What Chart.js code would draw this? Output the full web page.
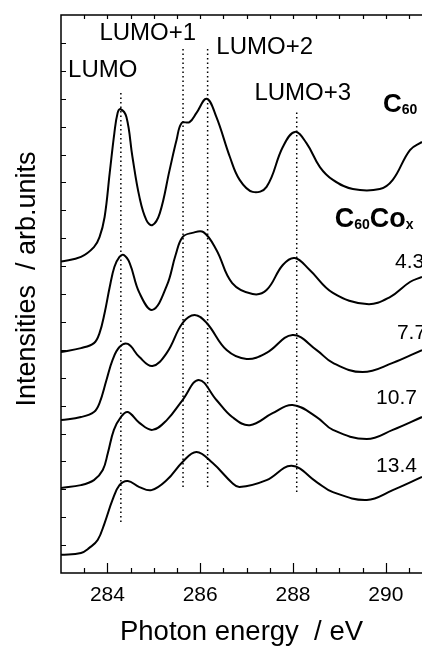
<!DOCTYPE html>
<html>
<head>
<meta charset="utf-8">
<script src="https://cdn.jsdelivr.net/npm/chart.js@4"></script>
<style>
  html, body { margin: 0; padding: 0; background: #fff; }
</style>
</head>
<body>
<canvas id="chart" width="422" height="650"></canvas>
<script>
// spectra (photon energy in eV, stacked intensity in arb. units)
const c60Energy = [283.0, 283.43, 283.71, 283.83, 283.94, 284.05, 284.15, 284.22, 284.28, 284.41, 284.54, 284.69, 284.84, 284.97, 285.13, 285.34, 285.49, 285.6, 285.77, 285.92, 286.14, 286.35, 286.64, 286.85, 287.13, 287.43, 287.78, 288.04, 288.29, 288.58, 288.86, 289.29, 289.87, 290.15, 290.52, 290.78]
const c60Intensity = [11.16, 11.33, 11.68, 12.04, 12.76, 14.34, 15.77, 16.49, 16.63, 16.34, 14.91, 13.48, 12.65, 12.47, 12.90, 14.44, 15.52, 16.13, 16.16, 16.49, 17.00, 16.34, 14.91, 14.09, 13.66, 13.84, 15.27, 15.81, 15.41, 14.55, 14.09, 13.76, 13.76, 14.09, 15.16, 15.45]

const co43Energy = [283.0, 283.43, 283.71, 283.83, 283.94, 284.05, 284.15, 284.26, 284.35, 284.48, 284.69, 284.97, 285.28, 285.47, 285.62, 285.83, 286.07, 286.35, 286.69, 287.13, 287.43, 287.78, 288.04, 288.36, 288.86, 289.59, 290.09, 290.52, 290.78]
const co43Intensity = [7.92, 8.06, 8.24, 8.60, 9.32, 10.25, 10.97, 11.33, 11.40, 11.11, 10.04, 9.43, 10.30, 11.40, 12.04, 12.19, 12.22, 11.58, 10.39, 10.00, 10.14, 11.04, 11.29, 10.86, 10.04, 9.64, 9.89, 10.43, 10.61]

const co77Energy = [283.0, 283.43, 283.71, 283.83, 283.98, 284.11, 284.26, 284.44, 284.69, 284.97, 285.28, 285.62, 285.88, 286.14, 286.57, 287.0, 287.43, 287.99, 288.51, 288.86, 289.5, 290.15, 290.78]
const co77Intensity = [5.48, 5.59, 5.77, 6.09, 6.92, 7.63, 8.10, 8.21, 7.74, 7.42, 7.89, 8.96, 9.25, 8.96, 7.99, 7.67, 7.89, 8.53, 7.99, 7.53, 7.20, 7.53, 7.99]

const co107Energy = [283.0, 283.43, 283.71, 283.9, 284.01, 284.14, 284.29, 284.44, 284.69, 284.97, 285.28, 285.62, 285.97, 286.35, 286.69, 287.07, 287.56, 287.99, 288.51, 288.86, 289.59, 290.15, 290.78]
const co107Intensity = [3.05, 3.15, 3.33, 3.69, 4.30, 5.13, 5.59, 5.77, 5.38, 5.13, 5.48, 6.20, 6.92, 6.20, 5.59, 5.30, 5.73, 6.02, 5.59, 5.13, 4.80, 5.13, 5.59]

const co134Energy = [283.0, 283.43, 283.61, 283.79, 283.94, 284.11, 284.26, 284.44, 284.69, 284.95, 285.28, 285.62, 285.92, 286.27, 286.69, 286.85, 287.43, 287.97, 288.51, 288.86, 289.59, 290.15, 290.78]
const co134Intensity = [0.65, 0.72, 0.90, 1.18, 1.79, 2.62, 3.15, 3.30, 3.08, 2.97, 3.33, 3.98, 4.34, 3.94, 3.23, 3.08, 3.33, 3.84, 3.26, 2.90, 2.62, 2.97, 3.44]

// LUMO levels: energy and extent of the dotted guide lines
const levelNames = ['LUMO', 'LUMO+1', 'LUMO+2', 'LUMO+3']
const levelEnergy = [284.29, 285.63, 286.16, 288.08]
const levelTop = [17.24, 18.78, 18.78, 16.52]
const levelBottom = [1.83, 3.08, 3.08, 2.90]

const coContent = ['4.3', '7.7', '10.7', '13.4']
const xTickLabels = [284, 286, 288, 290]

const FONT = "'Liberation Sans', Arial, sans-serif"

function points(xs, ys) {
  return xs.map((x, i) => ({x: x, y: ys[i]}))
}

function spectrum(xs, ys) {
  return {
    data: points(xs, ys),
    borderColor: '#000',
    borderWidth: 2,
    pointRadius: 0,
    tension: 0.4
  }
}

const guides = levelEnergy.map((e, i) => ({
  data: [{x: e, y: levelBottom[i]}, {x: e, y: levelTop[i]}],
  borderColor: '#000',
  borderWidth: 1.5,
  borderDash: [1.5, 3],
  pointRadius: 0
}))

// where the annotation texts sit, in data units
const levelLabelPos = [[283.9, 18.0], [284.87, 19.35], [287.39, 18.85], [288.21, 17.2]]
const coLabelPos = [[290.2, 11.15], [290.24, 8.6], [289.79, 6.27], [289.79, 3.84]]

const frame = {
  id: 'frame',
  afterDatasetsDraw(chart) {
    const {ctx, chartArea: a, scales: {x, y}} = chart
    ctx.save()
    ctx.strokeStyle = '#000'
    ctx.lineWidth = 1.5
    ctx.beginPath()
    ctx.moveTo(a.right + 2, a.top)
    ctx.lineTo(a.left, a.top)
    ctx.lineTo(a.left, a.bottom)
    ctx.lineTo(a.right + 2, a.bottom)
    ctx.stroke()

    ctx.lineWidth = 1.2
    ctx.beginPath()
    for (let v = 283.5; v <= x.max; v += 0.5) {
      const px = Math.round(x.getPixelForValue(v)) + 0.5
      const len = (v % 2 === 0) ? 10 : 5
      ctx.moveTo(px, a.bottom)
      ctx.lineTo(px, a.bottom - len)
      ctx.moveTo(px, a.top)
      ctx.lineTo(px, a.top + 4)
    }
    for (let v = 1; v < 20; v += 1) {
      const py = Math.round(y.getPixelForValue(v)) + 0.5
      ctx.moveTo(a.left, py)
      ctx.lineTo(a.left + 5, py)
    }
    ctx.stroke()

    ctx.fillStyle = '#000'
    ctx.textBaseline = 'middle'
    ctx.textAlign = 'center'
    ctx.font = '24px ' + FONT
    levelNames.forEach((name, i) => {
      const p = levelLabelPos[i]
      ctx.fillText(name, x.getPixelForValue(p[0]), y.getPixelForValue(p[1]))
    })

    ctx.textAlign = 'left'
    ctx.font = '21px ' + FONT
    coContent.forEach((c, i) => {
      const p = coLabelPos[i]
      ctx.fillText(c, x.getPixelForValue(p[0]), y.getPixelForValue(p[1]))
    })

    // bold formula labels with subscripts
    ctx.textBaseline = 'alphabetic'
    const formula = (parts, vx, vy, big) => {
      let px = x.getPixelForValue(vx)
      const py = y.getPixelForValue(vy)
      parts.forEach(([t, sub]) => {
        ctx.font = sub ? 'bold 14px ' + FONT : 'bold ' + big + 'px ' + FONT
        ctx.fillText(t, px, sub ? py + 2 : py)
        px += ctx.measureText(t).width
      })
    }
    formula([['C', false], ['60', true]], 289.94, 16.52, 26)
    formula([['C', false], ['60', true], ['Co', false], ['x', true]], 288.9, 12.4, 27)
    ctx.restore()
  }
}

new Chart(document.getElementById('chart'), {
  type: 'line',
  data: {
    datasets: [
      spectrum(c60Energy, c60Intensity),
      spectrum(co43Energy, co43Intensity),
      spectrum(co77Energy, co77Intensity),
      spectrum(co107Energy, co107Intensity),
      spectrum(co134Energy, co134Intensity),
      ...guides
    ]
  },
  options: {
    responsive: false,
    animation: false,
    layout: {padding: {top: 15, right: 0, left: 0, bottom: 0}},
    plugins: {legend: {display: false}, tooltip: {enabled: false}},
    scales: {
      x: {
        type: 'linear',
        min: 283,
        max: 290.78,
        grid: {display: false, drawTicks: false},
        border: {display: false},
        afterBuildTicks: (scale) => { scale.ticks = xTickLabels.map(v => ({value: v})) },
        afterFit: (scale) => { scale.height = 77 },
        ticks: {color: '#000', padding: 10, maxRotation: 0, font: {family: FONT, size: 21}},
        title: {display: true, text: 'Photon energy  / eV', color: '#000', padding: {bottom: 1}, font: {family: FONT, size: 27.5}}
      },
      y: {
        min: 0,
        max: 20,
        grid: {display: false, drawTicks: false},
        border: {display: false},
        ticks: {display: false},
        afterFit: (scale) => { scale.width = 61 },
        title: {display: true, text: '    Intensities  / arb.units', color: '#000', padding: {top: 11}, font: {family: FONT, size: 27}}
      }
    }
  },
  plugins: [frame]
})
</script>
</body>
</html>
